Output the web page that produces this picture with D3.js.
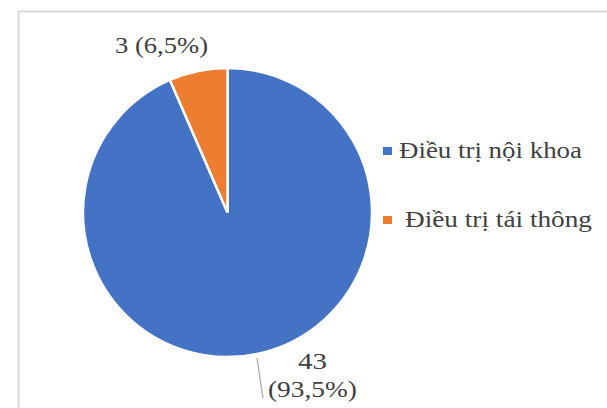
<!DOCTYPE html>
<html><head><meta charset="utf-8">
<script src="https://cdn.jsdelivr.net/npm/d3@7"></script>
<style>body{margin:0;background:#fff}svg{display:block}</style>
</head><body>
<svg id="c" width="607" height="408"></svg>
<script>
const categories = ["Điều trị nội khoa", "Điều trị tái thông"];
const values = [43, 3];
const percentLabels = ["93,5%", "6,5%"];
const colors = ["#4472C4", "#ED7D31"];

const svg = d3.select("#c");
svg.append("path").attr("d","M18.5,408 V11.5 H607").attr("fill","none").attr("stroke","#d9d9d9").attr("stroke-width",2);

const cx = 227.5, cy = 212.5, r = 144.5;
const pie = d3.pie().sort(null).value(d => d)(values);
const arc = d3.arc().innerRadius(0).outerRadius(r);
const g = svg.append("g").attr("transform",`translate(${cx},${cy})`);
g.selectAll("path").data(pie).enter().append("path")
  .attr("d", arc).attr("fill",(d,i)=>colors[i])
  .attr("stroke","#fff").attr("stroke-width",2.5).attr("stroke-linejoin","miter");

function txt(x,y,s,len){
  return svg.append("text").attr("x",x).attr("y",y)
    .style("font-family","'Liberation Serif'").attr("font-size",22.5).attr("fill","#404040")
    .attr("textLength",len).attr("lengthAdjust","spacingAndGlyphs").text(s);
}
txt(115,53,`${values[1]} (${percentLabels[1]})`,93);
svg.append("line").attr("x1",257).attr("y1",358).attr("x2",263).attr("y2",398).attr("stroke","#a6a6a6").attr("stroke-width",1.2);
txt(298,369,String(values[0]),29);
txt(268,397,`(${percentLabels[0]})`,89);

const sqY = [147, 216];
const tx = [399, 405];
const ty = [158, 227];
const tw = [183, 187];
categories.forEach((c,i)=>{
  svg.append("rect").attr("x",383).attr("y",sqY[i]).attr("width",9).attr("height",8).attr("fill",colors[i]);
  txt(tx[i],ty[i],c,tw[i]);
});
</script>
</body></html>
